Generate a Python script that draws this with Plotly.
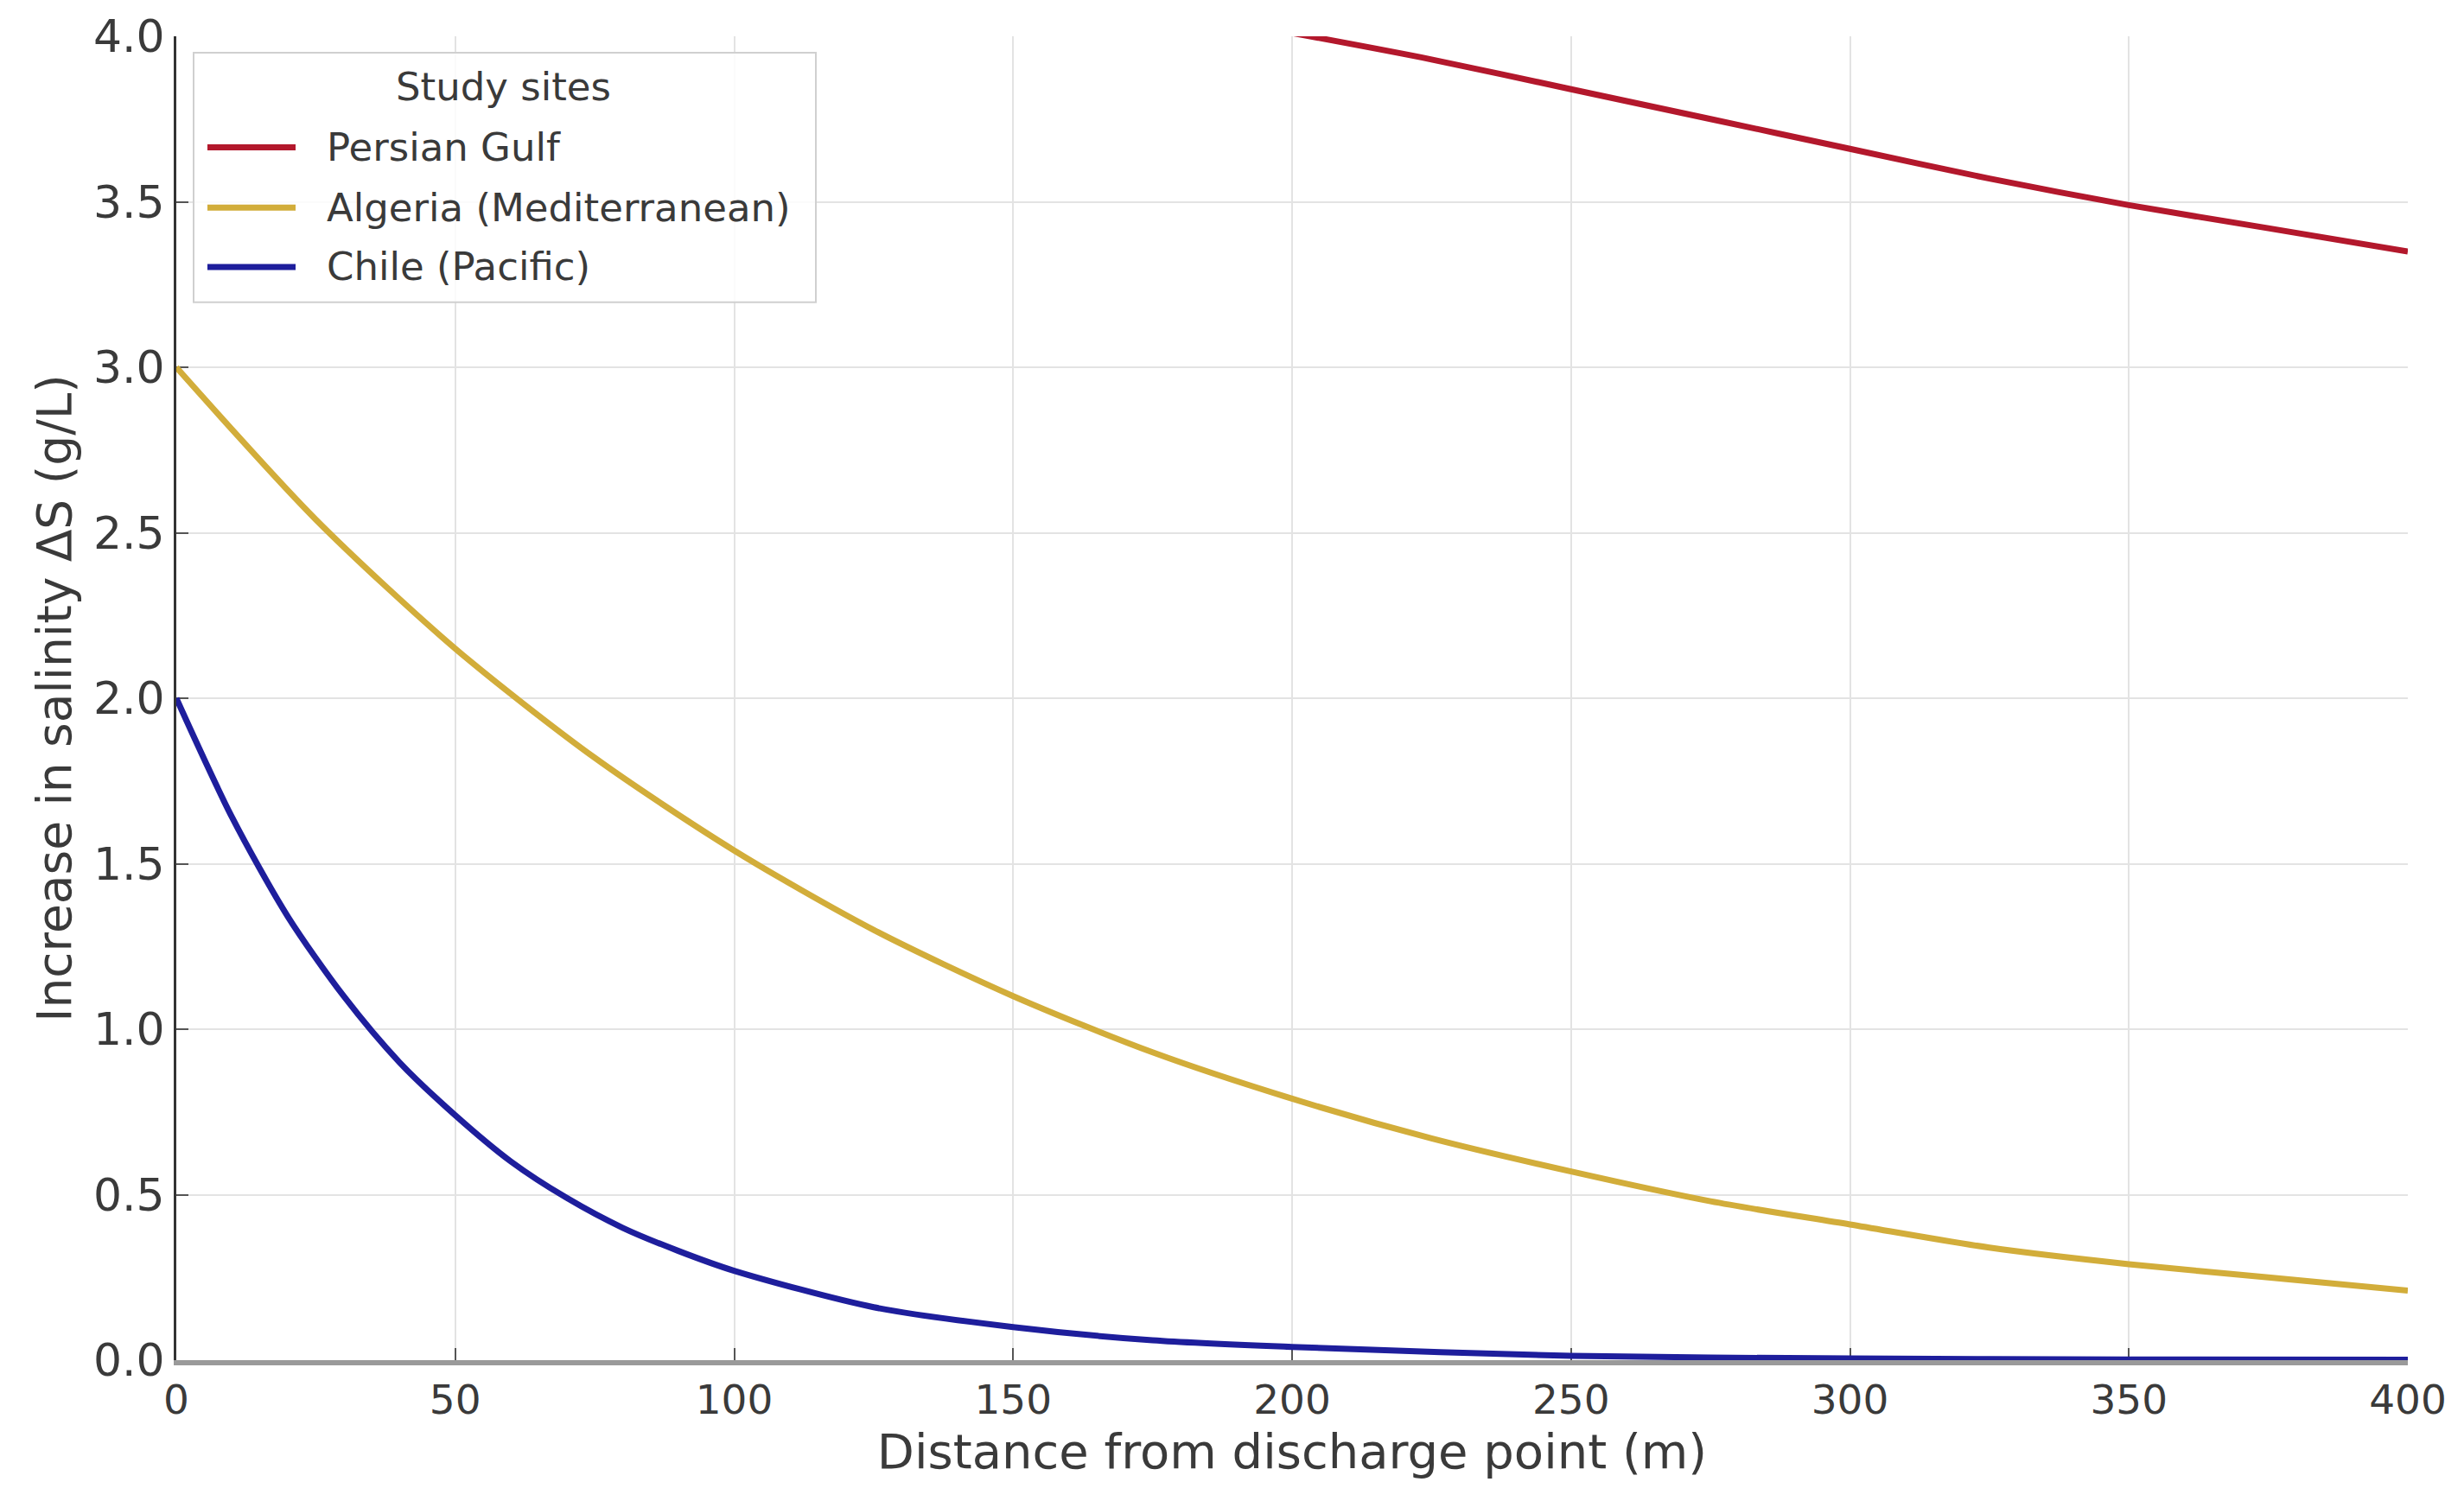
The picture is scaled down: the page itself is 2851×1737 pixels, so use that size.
import plotly.graph_objects as go

# ---- data ----
series_names = ["Persian Gulf", "Algeria (Mediterranean)", "Chile (Pacific)"]

gulf_x = [200, 225, 250, 275, 300, 325, 350, 375, 400]
gulf_y = [4.01, 3.93, 3.84, 3.75, 3.66, 3.57, 3.49, 3.42, 3.35]

algeria_x = [0, 25, 50, 75, 100, 125, 150, 175, 200, 225, 250, 275, 300, 325, 350, 375, 400]
algeria_y = [3.00, 2.54, 2.15, 1.82, 1.54, 1.30, 1.10, 0.93, 0.79, 0.67, 0.57, 0.48, 0.41, 0.34, 0.29, 0.25, 0.21]

chile_x = [0, 10, 20, 30, 40, 50, 60, 70, 80, 90, 100, 125, 150, 175, 200, 250, 300, 350, 400]
chile_y = [2.00, 1.64, 1.34, 1.10, 0.90, 0.74, 0.60, 0.49, 0.40, 0.33, 0.27, 0.16, 0.10, 0.06, 0.04, 0.013, 0.005, 0.002, 0.001]

x_ticks = [0, 50, 100, 150, 200, 250, 300, 350, 400]
y_ticks = [0.0, 0.5, 1.0, 1.5, 2.0, 2.5, 3.0, 3.5, 4.0]

x_title = "Distance from discharge point (m)"
y_title = "Increase in salinity ΔS (g/L)"
legend_title = "Study sites"

colors = ["#b3182c", "#d2ad3a", "#1e1e9c"]

# ---- layout geometry (pixels) ----
W, H = 2851, 1737
ML, MR, MT, MB = 204, 65, 36, 163
PW, PH = W - ML - MR, H - MT - MB
FONT = "DejaVu Sans"
TXT = "#3a3a3a"


def px(xp):
    return (xp - ML) / PW


def py(yp):
    return (H - MB - yp) / PH


fig = go.Figure()
for name, xs, ys, c in zip(series_names, [gulf_x, algeria_x, chile_x],
                           [gulf_y, algeria_y, chile_y], colors):
    fig.add_trace(go.Scatter(x=xs, y=ys, mode="lines", name=name,
                             line=dict(color=c, width=7, shape="spline", smoothing=0.8),
                             showlegend=False))

axis_common = dict(showgrid=True, gridcolor="#e3e3e3", gridwidth=2,
                   ticks="inside", ticklen=14, tickwidth=2, tickcolor="#555",
                   zeroline=False, layer="below traces")

fig.update_xaxes(range=[0, 400], tickvals=x_ticks, ticktext=[str(v) for v in x_ticks],
                 showline=True, linecolor="#9a9a9a", linewidth=6,
                 tickfont=dict(family=FONT, size=47, color=TXT),
                 title=dict(text=x_title, font=dict(family=FONT, size=56, color=TXT), standoff=10),
                 **axis_common)
fig.update_yaxes(range=[0, 4], tickvals=y_ticks, ticktext=[f"{v:.1f}" for v in y_ticks],
                 showline=True, linecolor="#333", linewidth=3,
                 tickfont=dict(family=FONT, size=52, color=TXT),
                 title=dict(text=y_title, font=dict(family=FONT, size=55, color=TXT), standoff=8),
                 **axis_common)

# ---- custom legend (matplotlib style box) ----
shapes = [dict(type="rect", xref="paper", yref="paper",
               x0=px(224), x1=px(944), y0=py(345), y1=py(55),
               line=dict(color="#d0d0d0", width=2), fillcolor="rgba(255,255,255,0.85)",
               layer="above")]
annotations = [dict(text=legend_title, xref="paper", yref="paper", x=px(582), y=py(95),
                    xanchor="center", yanchor="middle", showarrow=False,
                    font=dict(family=FONT, size=45, color=TXT))]
entry_y = [165, 235, 304]
for name, c, ey in zip(series_names, colors, entry_y):
    shapes.append(dict(type="line", xref="paper", yref="paper",
                       x0=px(240), x1=px(342), y0=py(ey), y1=py(ey),
                       line=dict(color=c, width=7), layer="above"))
    annotations.append(dict(text=name, xref="paper", yref="paper", x=px(376), y=py(ey),
                            xanchor="left", yanchor="middle", showarrow=False,
                            font=dict(family=FONT, size=45, color=TXT)))

fig.update_layout(width=W, height=H, margin=dict(l=ML, r=MR, t=MT, b=MB),
                  paper_bgcolor="white", plot_bgcolor="white",
                  shapes=shapes, annotations=annotations,
                  font=dict(family=FONT, color=TXT))

fig.write_html("out.html")
